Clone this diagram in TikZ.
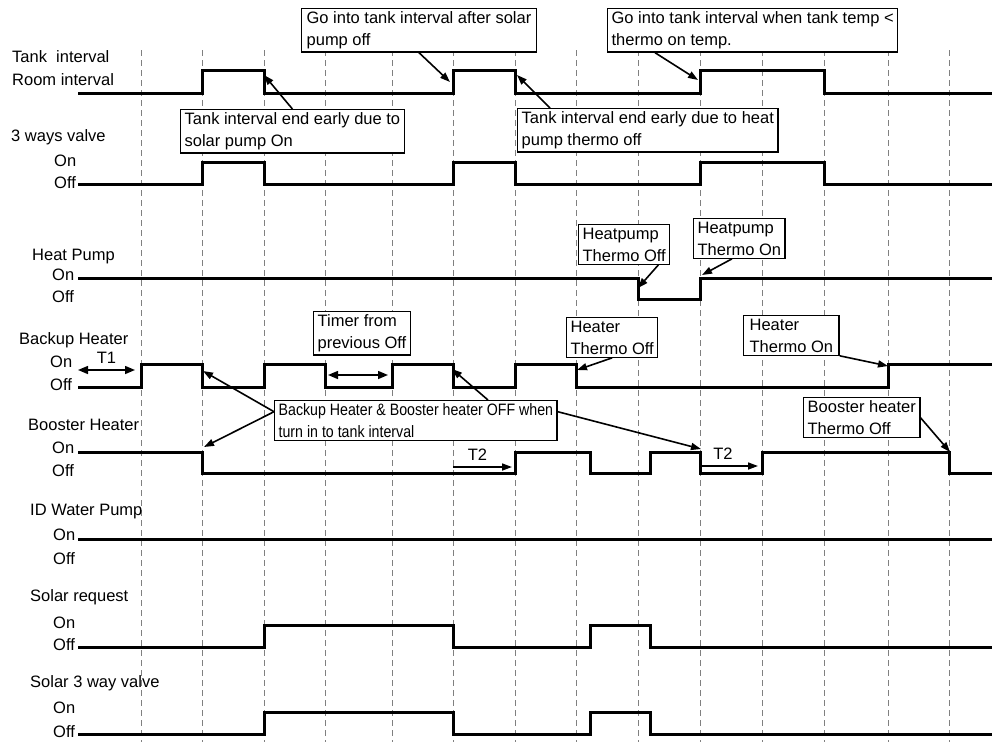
\documentclass[tikz,border=0pt]{standalone}
\usepackage{fontspec}
\setmainfont{Liberation Sans}
\newfontfamily\narrowfont[FakeStretch=0.86]{Liberation Sans}
\usepackage{tikz}
\usetikzlibrary{arrows.meta}

\begin{document}
\begin{tikzpicture}[x=1pt, y=-1pt, every node/.style={font=\fontsize{16.5}{22}\selectfont},
    sig/.style={line width=3pt},
    gridline/.style={gray, line width=1pt, dash pattern=on 6pt off 4pt},
    note/.style={draw, line width=1.3pt, fill=white, anchor=north west, align=left, inner xsep=4pt, inner ysep=3pt},
    lbl/.style={anchor=west, inner sep=0pt},
    callout/.style={-{Triangle[length=10pt, width=7pt]}, line width=1.6pt},
    span/.style={{Triangle[length=10pt, width=8pt]}-{Triangle[length=10pt, width=8pt]}, line width=1.5pt}]
    \useasboundingbox (0,0) rectangle (992,742);

    % Time grid
    \foreach \x in {141,202,264,325,392,453,515,576,638,700,762,824,888,949}
        \draw[gridline] (\x,50) -- (\x,742);

    % Signal names
    \node (tankLbl) [lbl] at (12,57) {Tank\ \ interval};
    \node (roomLbl) [lbl] at (12,80) {Room interval};
    \node (valveLbl) [lbl] at (11,137) {3 ways valve};
    \node (valveOn) [lbl] at (54,161) {On};
    \node (valveOff) [lbl] at (54,183) {Off};
    \node (hpLbl) [lbl] at (32,257) {Heat Pump};
    \node (hpOn) [lbl] at (52,275) {On};
    \node (hpOff) [lbl] at (52,297) {Off};
    \node (buLbl) [lbl] at (19,340) {Backup Heater};
    \node (buOn) [lbl] at (50,362) {On};
    \node (buOff) [lbl] at (50,385) {Off};
    \node (boLbl) [lbl] at (28,425) {Booster Heater};
    \node (boOn) [lbl] at (52,448) {On};
    \node (boOff) [lbl] at (52,471) {Off};
    \node (idLbl) [lbl] at (30,512) {ID Water Pump};
    \node (idOn) [lbl] at (53,535) {On};
    \node (idOff) [lbl] at (53,559) {Off};
    \node (srLbl) [lbl] at (30,597) {Solar request};
    \node (srOn) [lbl] at (53,623) {On};
    \node (srOff) [lbl] at (53,645) {Off};
    \node (svLbl) [lbl] at (30,683) {Solar 3 way valve};
    \node (svOn) [lbl] at (53,708) {On};
    \node (svOff) [lbl] at (53,732) {Off};

    % Waveforms
    \draw[sig] (78,93) -| (202,70) -| (264,93) -| (453,70) -| (515,93) -| (700,70) -| (824,93) -- (992,93);
    \draw[sig] (78,184) -| (202,162) -| (264,184) -| (453,162) -| (515,184) -| (700,162) -| (824,184) -- (992,184);
    \draw[sig] (78,278) -| (638,299) -| (700,278) -- (992,278);
    \draw[sig] (78,387) -| (141,364) -| (202,387) -| (264,364) -| (325,387) -| (392,364) -| (453,387) -| (515,364) -| (576,387) -| (888,364) -- (992,364);
    \draw[sig] (78,452) -| (202,473) -| (515,452) -| (590,473) -| (650,452) -| (700,473) -| (762,452) -| (949,473) -- (992,473);
    \draw[sig] (78,539) -- (992,539);
    \draw[sig] (78,647) -| (264,625) -| (453,647) -| (590,625) -| (650,647) -- (992,647);
    \draw[sig] (78,734) -| (264,712) -| (453,734) -| (590,712) -| (650,734) -- (992,734);

    % Timing spans
    \coordinate (t1a) at (78,370);
    \coordinate (t1b) at (135,370);
    \draw[span] (t1a) -- (t1b) node[midway, above=6pt, inner sep=0pt] {T1};
    \coordinate (tma) at (328,375);
    \coordinate (tmb) at (388,375);
    \draw[span] (tma) -- (tmb);
    \coordinate (t2a) at (453,467);
    \coordinate (t2b) at (512,467);
    \draw[callout] (t2a) -- (t2b) node[midway, above=6pt, inner sep=0pt, xshift=-5pt] {T2};
    \coordinate (t2c) at (700,466);
    \coordinate (t2d) at (758,466);
    \draw[callout] (t2c) -- (t2d) node[midway, above=6pt, inner sep=0pt, xshift=-6pt] {T2};

    % Notes
    \node (afterSolar) [note, inner xsep=5pt] at (301,8) {Go into tank interval after solar\\pump off};
    \node (tankTemp) [note] at (607,8) {Go into tank interval when tank temp <\\thermo on temp.};
    \node (endSolar) [note] at (180,109) {Tank interval end early due to\\solar pump On};
    \node (endHeat) [note] at (517,108) {Tank interval end early due to heat\\pump thermo off};
    \node (hpOffNote) [note] at (578,224) {Heatpump\\Thermo Off};
    \node (hpOnNote) [note] at (693,218) {Heatpump\\Thermo On};
    \node (timerNote) [note] at (313,311) {Timer from\\previous Off};
    \node (htOffNote) [note] at (566,317) {Heater\\Thermo Off};
    \node (htOnNote) [note, inner xsep=6pt] at (743,315) {Heater\\Thermo On};
    \node (offNote) [note, font=\narrowfont\fontsize{16.5}{22}\selectfont] at (274,400) {Backup Heater \& Booster heater OFF when\\turn in to tank interval};
    \node (boOffNote) [note] at (803,397) {Booster heater\\Thermo Off};

    % Arrow tips
    \coordinate (solarEnd) at (264,75);
    \coordinate (solarStart) at (450,82);
    \coordinate (tempStart) at (698,80);
    \coordinate (heatEnd) at (517,75);
    \coordinate (hpDown) at (638,288);
    \coordinate (hpUp) at (702,275);
    \coordinate (htDown) at (577,370);
    \coordinate (htUp) at (888,366);
    \coordinate (buDown) at (203,371);
    \coordinate (boDown) at (204,447);
    \coordinate (buDown2) at (452,369);
    \coordinate (boDown2) at (701,449);
    \coordinate (boThermo) at (950,452);

    % Callouts
    \draw[callout] (afterSolar.south) -- (solarStart);
    \draw[callout] ([xshift=48pt]tankTemp.south west) -- (tempStart);
    \draw[callout] (endSolar.north) -- (solarEnd);
    \draw[callout] ([xshift=33pt]endHeat.north west) -- (heatEnd);
    \draw[callout] ([xshift=-12pt]hpOffNote.south east) -- (hpDown);
    \draw[callout] ([xshift=39pt]hpOnNote.south west) -- (hpUp);
    \draw[callout] (htOffNote.south) -- (htDown);
    \draw[callout] (htOnNote.south east) -- (htUp);
    \draw[callout] ([yshift=9pt]offNote.west) -- (buDown);
    \draw[callout] ([yshift=9pt]offNote.west) -- (boDown);
    \draw[callout] ([xshift=214pt]offNote.north west) -- (buDown2);
    \draw[callout] ([yshift=9pt]offNote.east) -- (boDown2);
    \draw[callout] (boOffNote.east) -- (boThermo);
\end{tikzpicture}
\end{document}
